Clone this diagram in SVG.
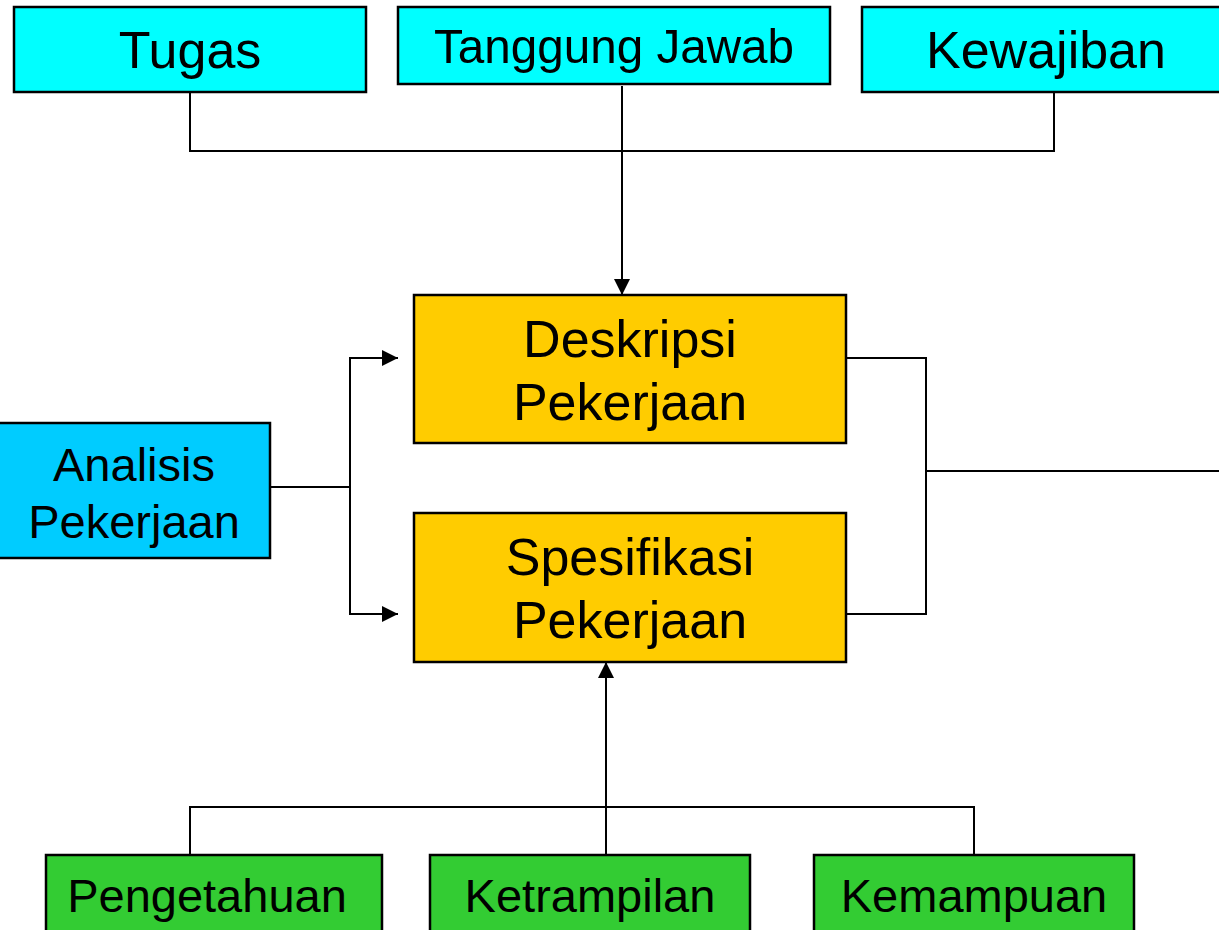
<svg xmlns="http://www.w3.org/2000/svg" width="1219" height="930" viewBox="0 0 1219 930">
<style>
.box{stroke:#000;stroke-width:2.5}
.cyan{fill:#00FFFF}
.blue{fill:#00CCFF}
.yellow{fill:#FFCC00}
.green{fill:#33CC33}
.shadow{fill:none;stroke:#888;stroke-width:1.5}
text{font-family:"Liberation Sans",Arial,sans-serif;fill:#000;text-anchor:middle}
.conn{fill:none;stroke:#000;stroke-width:2}
</style>
<defs>
<marker id="arrow" viewBox="0 0 16 16" refX="16" refY="8" markerWidth="16" markerHeight="16" markerUnits="userSpaceOnUse" orient="auto">
<path d="M0,0 L16,8 L0,16 Z" fill="#000"/>
</marker>
</defs>
<rect width="1219" height="930" fill="#fff"/>
<g id="connectors">
<polyline class="conn" points="190,88 190,151 1054,151 1054,88"/>
<line class="conn" x1="622" y1="86" x2="622" y2="295" marker-end="url(#arrow)"/>
<line class="conn" x1="270" y1="487" x2="350" y2="487"/>
<polyline class="conn" points="350,614 350,358 398,358" marker-end="url(#arrow)"/>
<polyline class="conn" points="350,487 350,614 398,614" marker-end="url(#arrow)"/>
<polyline class="conn" points="846,358 926,358 926,614 846,614"/>
<line class="conn" x1="926" y1="471" x2="1219" y2="471"/>
<polyline class="conn" points="190,855 190,807 974,807 974,855"/>
<line class="conn" x1="606" y1="855" x2="606" y2="662" marker-end="url(#arrow)"/>
</g>
<g id="tugas">
<rect class="box cyan" x="14" y="7" width="352" height="85"/>
<text x="190" y="68" font-size="52">Tugas</text>
</g>
<g id="tanggung-jawab">
<rect class="box cyan" x="398" y="7" width="432" height="77"/>
<text x="614" y="63" font-size="49" textLength="360" lengthAdjust="spacingAndGlyphs">Tanggung Jawab</text>
</g>
<g id="kewajiban">
<rect class="box cyan" x="862" y="7" width="362" height="85"/>
<text x="1046" y="68" font-size="52">Kewajiban</text>
</g>
<g id="deskripsi">
<rect class="box yellow" x="414" y="295" width="432" height="148"/>
<text x="630" y="357" font-size="52">Deskripsi</text>
<text x="630" y="420" font-size="52">Pekerjaan</text>
</g>
<g id="spesifikasi">
<rect class="box yellow" x="414" y="513" width="432" height="149"/>
<text x="630" y="575" font-size="52">Spesifikasi</text>
<text x="630" y="638" font-size="52">Pekerjaan</text>
</g>
<g id="analisis">
<rect class="box blue" x="-2" y="423" width="272" height="135"/>
<text x="134" y="481" font-size="47">Analisis</text>
<text x="134" y="538" font-size="47">Pekerjaan</text>
</g>
<g id="pengetahuan">
<rect class="box green" x="46" y="855" width="336" height="80"/>
<text x="207" y="912" font-size="47">Pengetahuan</text>
</g>
<g id="ketrampilan">
<rect class="box green" x="430" y="855" width="320" height="80"/>
<text x="590" y="912" font-size="47">Ketrampilan</text>
</g>
<g id="kemampuan">
<rect class="box green" x="814" y="855" width="320" height="80"/>
<text x="974" y="912" font-size="47">Kemampuan</text>
</g>
</svg>
